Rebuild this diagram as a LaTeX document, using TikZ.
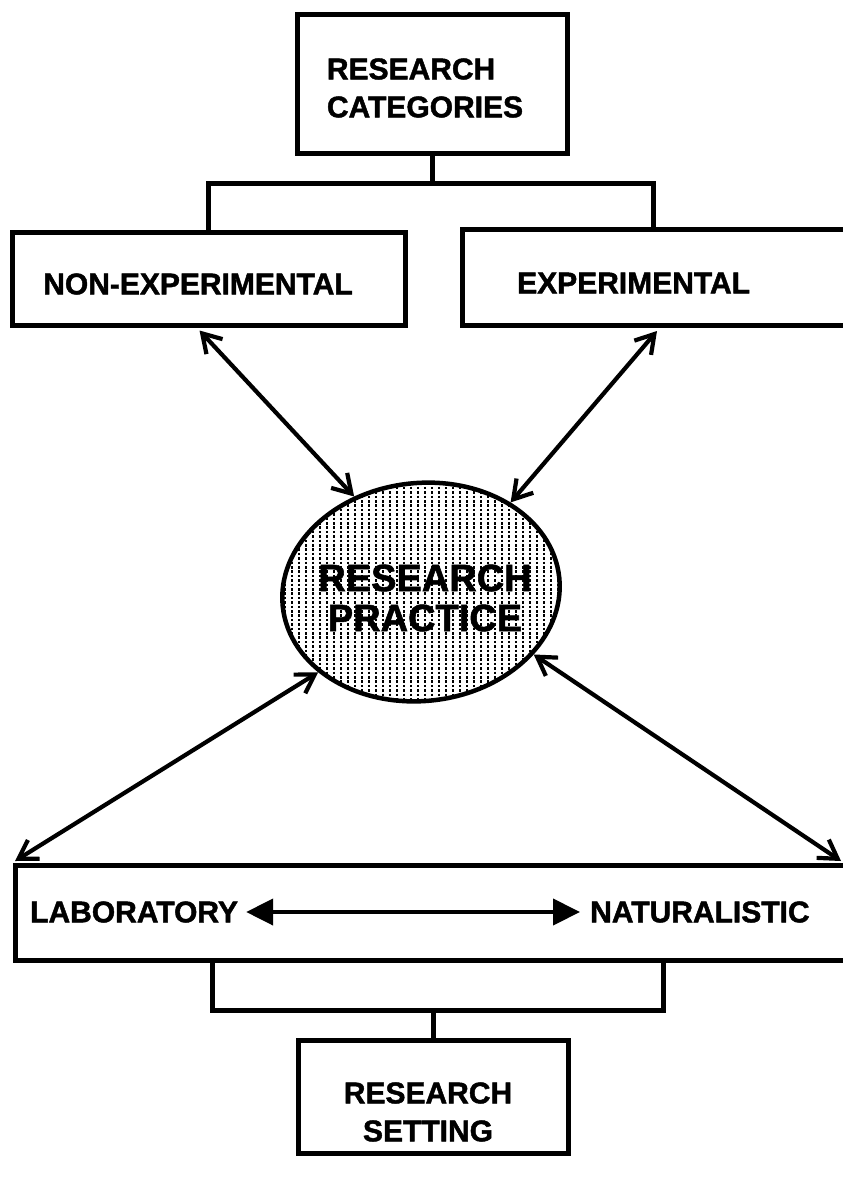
\documentclass[tikz,border=0pt]{standalone}
\usepackage{fontspec}
\setmainfont{Liberation Sans}
\newfontfamily\heavyfont{Liberation Sans Bold}[FakeBold=1.5]
\usetikzlibrary{arrows.meta,shapes.geometric,calc}
\begin{document}
\begin{tikzpicture}[x=1pt,y=-1pt,
  box/.style={draw, line width=5pt, rectangle, inner sep=0pt},
  lbl/.style={font=\heavyfont\fontsize{30}{38}\selectfont, align=center, inner sep=0pt},
  big/.style={font=\heavyfont\fontsize{38}{40}\selectfont, align=center, inner sep=0pt},
  ln/.style={line width=5pt},
  dbl/.style={line width=4.2pt, {Straight Barb[length=18pt,width=22pt]}-{Straight Barb[length=18pt,width=22pt]}},
  tri/.style={line width=4.2pt, {Triangle[length=27pt,width=26pt]}-{Triangle[length=27pt,width=26pt]}},
  dotcol/.style={line width=2.8pt, dash pattern=on 2.6pt off 1.8pt}]
\useasboundingbox (0,0) rectangle (843,1179);
\clip (0,0) rectangle (843,1179);

% boxes
\node[box, minimum width=270pt, minimum height=139pt] (cat) at (432,83.5) {};
\node[lbl, align=left] (catt) at (425,88) {RESEARCH\\CATEGORIES};
\node[box, minimum width=393pt, minimum height=93pt] (nonexp) at (208.5,278.5) {};
\node[lbl] (nonexpt) at (198,284) {NON-EXPERIMENTAL};
\node[box, anchor=north west, minimum width=440pt, minimum height=96pt] (exp) at (460,227) {};
\node[lbl, anchor=west] (expt) at (517,283) {EXPERIMENTAL};

% research practice ellipse with dot fill
\begin{scope}
  \clip[rotate around={6:(421,592)}] (421,592) ellipse [x radius=139, y radius=109];
  \foreach \x in {278,285,...,566} \draw[dotcol] (\x,478) -- (\x,710);
\end{scope}
\node[ellipse, draw, line width=4.5pt, rotate=6, minimum width=278pt, minimum height=218pt, inner sep=0pt] (rp) at (421,592) {};
\node[big] (rpt) at (425,598) {RESEARCH\\PRACTICE};

\node[box, anchor=north west, minimum width=880pt, minimum height=95pt] (lab) at (13,863) {};
\node[lbl, anchor=west] (labt) at (30,912) {LABORATORY};
\node[lbl, anchor=west] (natt) at (590,912) {NATURALISTIC};
\node[box, minimum width=270pt, minimum height=113pt] (set) at (433,1096.5) {};
\node[lbl] (sett) at (428,1112) {RESEARCH\\SETTING};

% top bracket
\coordinate (tb) at (0,183);
\coordinate (expj) at ($(exp.north west)+(193,0)$);
\draw[ln] (cat.south) -- (cat.south |- tb);
\draw[ln] (nonexp.north) |- (expj |- tb) -- (expj);

% bottom bracket
\coordinate (bb) at (0,1010);
\coordinate (lj) at ($(lab.south west)+(199,0)$);
\coordinate (rj) at ($(lab.south west)+(650,0)$);
\draw[ln] (lj) |- (rj |- bb) -- (rj);
\draw[ln] (set.north) -- (set.north |- bb);

% arrows
\coordinate (ne) at ($(nonexp.south west)+(190,3)$);
\coordinate (ee) at ($(exp.south west)+(197,3)$);
\coordinate (ll) at ($(lab.north west)+(2,-2)$);
\coordinate (lr) at ($(lab.north west)+(828,-2)$);
\draw[dbl] (ne) -- (rp.119);
\draw[dbl] (ee) -- (rp.39);
\draw[dbl] (rp.212) -- (ll);
\draw[dbl] (rp.325) -- (lr);
\draw[tri] ([xshift=8pt]labt.east) -- ([xshift=-10pt]natt.west);
\end{tikzpicture}
\end{document}
